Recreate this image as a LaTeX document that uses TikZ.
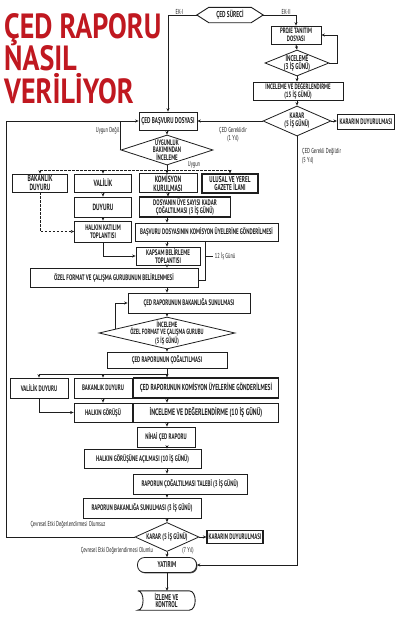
\documentclass[tikz,border=0pt]{standalone}
\usepackage{fontspec}
\newfontfamily\cnd[FakeStretch=0.62]{PT Sans}
\newfontfamily\ttlf[FakeStretch=0.8]{PT Sans}
\usetikzlibrary{arrows.meta,shapes.geometric,calc,shadows}
\definecolor{ink}{HTML}{1E1E1E}
\definecolor{ttlred}{RGB}{192,24,32}
\newcommand{\fs}[2]{\cnd\bfseries\fontsize{#1}{#2}\selectfont}
\begin{document}
\begin{tikzpicture}[x=1pt,y=-1pt,
  every node/.style={text=ink},
  ln/.style={line width=.9pt, draw=ink},
  arr/.style={ln,-{Stealth[length=3.4pt,width=3pt]}},
  dsh/.style={arr,dash pattern=on 2.5pt off 1.5pt},
  dshl/.style={ln,dash pattern=on 2.5pt off 1.5pt},
  box/.style={draw=ink, line width=.8pt, inner sep=1pt, align=center, fill=white,
    drop shadow={shadow xshift=.9pt, shadow yshift=-.9pt, fill=ink, opacity=.8},
    font=\fs{7.8}{7.6}},
  sbox/.style={box, font=\fs{8}{7.6}},
  bigbox/.style={box, font=\fs{9}{8.4}},
  thick box/.style={line width=1.2pt},
  dia/.style={draw=ink, diamond, inner sep=0pt, line width=.8pt, fill=white},
  lbl/.style={align=center, inner sep=0pt, text=ink, font=\fs{8.4}{8}},
  sm/.style={inner sep=0pt, align=center, font=\cnd\fontsize{7.2}{7}\selectfont},
  ttl/.style={inner sep=0pt, anchor=north west, align=left, text=ttlred, font=\ttlf\bfseries\fontsize{35}{32.5}\selectfont}
]
\useasboundingbox (0,0) rectangle (400,621);
\fill[white] (0,0) rectangle (400,621);

% title
\node[ttl] (title) at (4,13) {ÇED RAPORU\\NASIL\\VERİLİYOR};

% helper coordinates
\coordinate (cx) at (167,0);
\coordinate (lx) at (6,0);
\coordinate (dy) at (0,170);
\coordinate (dy2) at (0,374);
\coordinate (brx) at (205,0);

% top part
\node[minimum width=66pt, minimum height=15pt, inner sep=0pt, font=\fs{8.6}{8}] (surec) at (230,15) {ÇED SÜRECİ};
\draw[ln] (surec.west) -- ([xshift=12pt]surec.north west) -- ([xshift=-12pt]surec.north east) -- (surec.east) -- ([xshift=-12pt]surec.south east) -- ([xshift=12pt]surec.south west) -- cycle;
\node[box, minimum width=50pt, minimum height=18pt] (proje) at (296,35) {PROJE TANITIM\\DOSYASI};
\node[dia, minimum width=64pt, minimum height=26pt, label={[lbl]center:{İNCELEME\\(3 İŞ GÜNÜ)}}] (inc1) at (297,63) {};
\node[box, minimum width=90pt, minimum height=18pt] (ided15) at (298,91) {İNCELEME VE DEĞERLENDİRME\\(15 İŞ GÜNÜ)};
\node[dia, minimum width=68pt, minimum height=30pt, label={[lbl,font=\fs{8}{8}]center:{KARAR\\(5 İŞ GÜNÜ)}}] (karar1) at (297,121) {};
\node[sbox, thick box, minimum width=57pt, minimum height=15pt] (kdy1) at (366,122) {KARARIN DUYURULMASI};

\node[box, font=\fs{8.4}{8}, minimum width=58pt, minimum height=18pt] (basvuru) at (168,121) {ÇED BAŞVURU DOSYASI};
\node[dia, minimum width=92pt, minimum height=30pt, label={[lbl,font=\fs{7.9}{7.3}]center:{UYGUNLUK\\BAKIMINDAN\\İNCELEME}}] (uygun) at (167,150) {};

% row 1
\node[bigbox, minimum width=55pt, minimum height=18pt] (bakd) at (40,183) {BAKANLIK\\DUYURU};
\node[bigbox, minimum width=57pt, minimum height=18pt] (vali) at (103,183) {VALİLİK};
\node[bigbox, minimum width=58pt, minimum height=18pt] (komk) at (168,183) {KOMİSYON\\KURULMASI};
\node[bigbox, thick box, font=\fs{8.5}{7.8}, minimum width=56pt, minimum height=19pt] (ulusal) at (230,183.5) {ULUSAL VE YEREL\\GAZETE İLANI};
% row 2
\node[bigbox, minimum width=57pt, minimum height=20pt] (duyuru) at (103,207) {DUYURU};
\node[sbox, thick box, minimum width=91pt, minimum height=20pt] (dosya) at (185,207) {DOSYANIN ÜYE SAYISI KADAR\\ÇOĞALTILMASI (3 İŞ GÜNÜ)};
% row 3
\node[box, font=\fs{8}{7.8}, minimum width=57pt, minimum height=21pt] (halkk) at (103,231.5) {HALKIN KATILIM\\TOPLANTISI};
\node[sbox, minimum width=143pt, minimum height=18pt] (bgon) at (206.5,232) {BAŞVURU DOSYASININ KOMİSYON ÜYELERİNE GÖNDERİLMESİ};
\node[box, font=\fs{8}{7.8}, minimum width=64pt, minimum height=18pt] (kapsam) at (168,256) {KAPSAM BELİRLEME\\TOPLANTISI};
\node[sbox, minimum width=168pt, minimum height=19pt] (ozel) at (114,277.5) {ÖZEL FORMAT VE ÇALIŞMA GURUBUNUN BELİRLENMESİ};

\node[sbox, minimum width=122pt, minimum height=20pt] (sunum) at (189,303) {ÇED RAPORUNUN BAKANLIĞA SUNULMASI};
\node[dia, minimum width=136pt, minimum height=32pt, label={[lbl,font=\fs{7.6}{7.4}]center:{İNCELEME\\ÖZEL FORMAT VE ÇALIŞMA GURUBU\\(3 İŞ GÜNÜ)}}] (inc2) at (167,333) {};
\node[sbox, minimum width=120pt, minimum height=16pt] (cogalt) at (167,360) {ÇED RAPORUNUN ÇOĞALTILMASI};

\node[sbox, minimum width=58pt, minimum height=20pt] (valid) at (39,388) {VALİLİK DUYURU};
\node[sbox, minimum width=58pt, minimum height=20pt] (bakd2) at (103,388) {BAKANLIK DUYURU};
\node[box, thick box, font=\fs{8.7}{8}, minimum width=145pt, minimum height=20pt] (komg) at (206,388) {ÇED RAPORUNUN KOMİSYON ÜYELERİNE GÖNDERİLMESİ};
\node[sbox, minimum width=58pt, minimum height=19pt] (halkg) at (103,412.5) {HALKIN GÖRÜŞÜ};
\node[box, font=\fs{9.4}{8}, minimum width=145pt, minimum height=19pt] (ided10) at (206,412.5) {İNCELEME VE DEĞERLENDİRME (10 İŞ GÜNÜ)};

\node[sbox, minimum width=58pt, minimum height=20pt] (nihai) at (166,437) {NİHAİ ÇED RAPORU};
\node[sbox, minimum width=117pt, minimum height=19pt] (hacil) at (142.5,458.5) {HALKIN GÖRÜŞÜNE AÇILMASI (10 İŞ GÜNÜ)};
\node[sbox, minimum width=114pt, minimum height=20pt] (rcog) at (190,484) {RAPORUN ÇOĞALTILMASI TALEBİ (3 İŞ GÜNÜ)};
\node[sbox, minimum width=118pt, minimum height=20pt] (rbak) at (142,508) {RAPORUN BAKANLIĞA SUNULMASI (3 İŞ GÜNÜ)};
\node[dia, minimum width=64pt, minimum height=29pt, label={[lbl,font=\fs{8}{8}]center:{KARAR (5 İŞ GÜNÜ)}}] (karar2) at (167,537) {};
\node[sbox, thick box, minimum width=56pt, minimum height=13pt] (kdy2) at (235,537) {KARARIN DUYURULMASI};
\node[box, font=\fs{8.4}{8}, rounded corners=7pt, minimum width=59pt, minimum height=15pt] (yatirim) at (167,565) {YATIRIM};
\node[inner sep=0pt, minimum width=57pt, minimum height=19pt, align=center, font=\fs{8.4}{7.6}] (izleme) at (166.5,600.5) {İZLEME VE\\KONTROL};
\draw[ln] (izleme.north west) -- ([xshift=-6pt]izleme.north east) .. controls ([xshift=2pt]izleme.north east) and ([xshift=2pt]izleme.south east) .. ([xshift=-6pt]izleme.south east) -- (izleme.south west) .. controls ([xshift=7pt]izleme.south west) and ([xshift=7pt]izleme.north west) .. (izleme.north west);

% connectors top
\draw[arr] (surec.west) -| (basvuru.north) node[pos=0.3, above=0.5pt, sm] (ek1) {EK-I};
\draw[arr] (surec.east) -| (proje.north) node[pos=0.35, above=0.5pt, sm] (ek2) {EK-II};
\draw[arr] (proje.south) -- (inc1.north);
\draw[arr] (inc1.east) -- ++(8,0) |- (proje.east);
\draw[arr] (inc1.south) -- (ided15.north -| inc1.south);
\draw[arr] (ided15.south -| karar1.north) -- (karar1.north);
\draw[arr] (karar1.east) -- (kdy1.west |- karar1.east);
\draw[arr] (karar1.west) -- (basvuru.east);
\node[sm] (lgerek) at (233,135) {ÇED Gereklidir\\[1pt](1 Yıl)};
\draw[arr] (karar1.south) |- (yatirim.east);
\node[sm, align=left, anchor=north west] (lgerekd) at (302,148.5) {ÇED Gerekli Değildir\\[2pt](5 Yıl)};

% basvuru
\draw[arr] (basvuru.south -| uygun.north) -- (uygun.north);
\draw[arr] (karar2.west) -- (karar2.west -| lx) |- (basvuru.west);
\draw[ln] (uygun.west) -- (uygun.west |- basvuru.west);
\node[sm, anchor=east] (luyd) at (119.5,131) {Uygun Değil};
\draw[arr] (uygun.south) -- (komk.north -| uygun.south);
\node[sm] (luy) at (194,164.5) {Uygun};
\draw[dshl] (bakd.north |- dy) -- (ulusal.north |- dy);
\draw[dsh] (bakd.north |- dy) -- (bakd.north);
\draw[dsh] (vali.north |- dy) -- (vali.north);
\draw[dsh] (ulusal.north |- dy) -- (ulusal.north);
\draw[dsh] (vali.south) -- (duyuru.north);
\draw[arr] (komk.south) -- (dosya.north -| komk.south);
\draw[dsh] (bakd.south) |- (halkk.west);
\draw[arr] (duyuru.south) -- (halkk.north);
\draw[arr] (dosya.south -| cx) -- (bgon.north -| cx);
\draw[arr] (halkk.south) |- (kapsam.west);
\draw[arr] (bgon.south -| cx) -- (kapsam.north -| cx);
\draw[arr] (kapsam.south -| cx) -- (ozel.north -| cx);
\draw[ln] (bgon.south -| brx) -- ([yshift=-2.5pt]ozel.east -| brx) -- ([yshift=-2.5pt]ozel.east);
\draw[ln] (kapsam.east -| brx) -- ++(8,0) node[sm, anchor=west, xshift=1.5pt] (l12) {12 İş Günü};
\draw[arr] (ozel.south -| cx) -- (sunum.north -| cx);
\draw[arr] (sunum.south -| cx) -- (inc2.north);
\coordinate (fb2) at (115,329.4);
\draw[arr] (fb2) |- (sunum.west);
\draw[arr] (inc2.south) -- (cogalt.north);
\draw[ln] (cogalt.south) -- (cogalt.south |- dy2);
\draw[ln] (valid.north |- dy2) -- (cogalt.south |- dy2);
\draw[arr] (valid.north |- dy2) -- (valid.north);
\draw[arr] (bakd2.north |- dy2) -- (bakd2.north);
\draw[arr] (cogalt.south |- dy2) -- (komg.north -| cx);
\draw[arr] (valid.south) |- (halkg.west);
\draw[arr] (bakd2.south) -- (halkg.north);
\draw[arr] (komg.south -| cx) -- (ided10.north -| cx);
\draw[arr] (ided10.south -| cx) -- (nihai.north -| cx);
\draw[arr] (nihai.south -| cx) -- (hacil.north -| cx);
\draw[arr] (hacil.south -| cx) -- (rcog.north -| cx);
\draw[arr] (rcog.south -| cx) -- (rbak.north -| cx);
\draw[arr] (rbak.south -| cx) -- (karar2.north);
\draw[arr] (karar2.east) -- (kdy2.west);
\draw[arr] (karar2.south) -- (yatirim.north);
\draw[arr] (yatirim.south) -- (izleme.north -| yatirim.south);
\node[sm] (lols) at (68,525) {Çevresel Etki Değerlendirmesi Olumsuz};
\node[sm] (lolu) at (117,551) {Çevresel Etki Değerlendirmesi Olumlu};
\node[sm] (l7) at (188,550.5) {(7 Yıl)};
\end{tikzpicture}
\end{document}
